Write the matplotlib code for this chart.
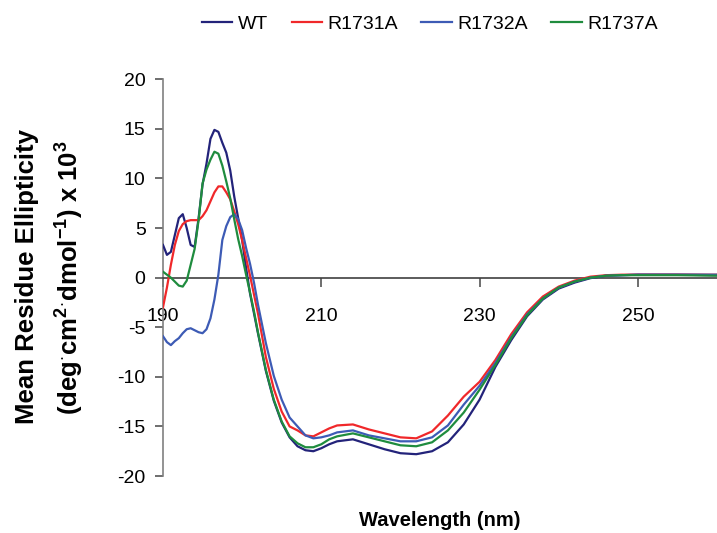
# -*- coding: utf-8 -*-
"""CD spectra: WT vs R1731A / R1732A / R1737A mutants."""

import matplotlib
matplotlib.use("Agg")
import matplotlib.pyplot as plt

plt.rcParams["font.family"] = ["Liberation Sans", "DejaVu Sans"]
plt.rcParams["mathtext.fontset"] = "custom"
plt.rcParams["mathtext.rm"] = "Liberation Sans"
plt.rcParams["mathtext.bf"] = "Liberation Sans:bold"
plt.rcParams["mathtext.default"] = "bf"
plt.rcParams["axes.unicode_minus"] = False

# wavelength grid (nm)
wavelength = [190, 190.5, 191, 191.5, 192, 192.5, 193, 193.5, 194, 194.5,
              195, 195.5, 196, 196.5, 197, 197.5, 198, 198.5, 199, 199.5,
              200, 200.5, 201, 201.5, 202, 203, 204, 205, 206, 207, 208,
              209, 210, 211, 212, 214, 216, 218, 220, 222, 224, 226, 228,
              230, 232, 234, 236, 238, 240, 242, 244, 246, 248, 250, 255, 260]

# mean residue ellipticity x 10^3
wt = [3.3, 2.3, 2.6, 4.3, 6.0, 6.4, 5.0, 3.3, 3.1, 6.0,
      9.4, 11.5, 14.0, 14.9, 14.7, 13.6, 12.6, 10.8, 8.2, 6.0,
      3.8, 1.0, -1.6, -3.6, -5.6, -9.4, -12.4, -14.6, -16.1, -17.0, -17.4,
      -17.5, -17.2, -16.8, -16.5, -16.3, -16.8, -17.3, -17.7, -17.8, -17.5, -16.6, -14.8,
      -12.3, -9.0, -6.3, -3.9, -2.2, -1.1, -0.5, -0.05, 0.2, 0.25, 0.3, 0.3, 0.25]

r1731a = [-3.0, -1.0, 1.3, 3.3, 4.7, 5.4, 5.7, 5.8, 5.8, 5.8,
          6.2, 6.8, 7.7, 8.6, 9.2, 9.2, 8.6, 7.9, 6.7, 5.4,
          3.8, 2.0, 0.2, -1.7, -3.6, -8.0, -11.2, -13.5, -15.0, -15.4, -15.9,
          -16.0, -15.6, -15.2, -14.9, -14.8, -15.3, -15.7, -16.1, -16.2, -15.5, -13.9, -12.0,
          -10.5, -8.3, -5.7, -3.5, -1.9, -0.9, -0.3, 0.1, 0.25, 0.3, 0.3, 0.3, 0.3]

r1732a = [-5.9, -6.5, -6.8, -6.4, -6.1, -5.6, -5.2, -5.1, -5.3, -5.5,
          -5.6, -5.2, -4.1, -2.2, 0.3, 3.8, 5.2, 6.1, 6.4, 5.9,
          4.8, 3.0, 1.4, -0.5, -2.7, -6.6, -9.9, -12.3, -14.1, -15.0, -15.9,
          -16.2, -16.1, -15.9, -15.6, -15.4, -15.9, -16.2, -16.5, -16.5, -16.1, -14.9, -12.8,
          -10.9, -8.6, -6.0, -3.7, -2.1, -1.0, -0.4, 0.0, 0.2, 0.25, 0.3, 0.3, 0.3]

r1737a = [0.6, 0.3, 0.0, -0.4, -0.8, -0.9, -0.3, 1.3, 2.9, 5.8,
          9.5, 10.9, 11.9, 12.7, 12.5, 11.3, 9.7, 8.0, 5.9, 3.9,
          2.2, 0.3, -1.5, -3.4, -5.5, -9.3, -12.3, -14.5, -16.0, -16.7, -17.1,
          -17.1, -16.8, -16.3, -16.0, -15.7, -16.1, -16.5, -16.9, -17.0, -16.6, -15.4, -13.6,
          -11.3, -8.8, -6.1, -3.8, -2.1, -1.0, -0.4, 0.0, 0.2, 0.25, 0.25, 0.25, 0.2]

series = [("WT", wt, "#23237a"),
          ("R1731A", r1731a, "#f0282a"),
          ("R1732A", r1732a, "#3d5bb5"),
          ("R1737A", r1737a, "#1f8c3e")]

x_ticks = [190, 210, 230, 250]
y_ticks = [-20, -15, -10, -5, 0, 5, 10, 15, 20]

fig = plt.figure(figsize=(7.17, 5.33), dpi=100)
ax = fig.add_axes([0.2273, 0.1069, 0.7727, 0.7443])

for name, vals, col in series:
    ax.plot(wavelength, vals, color=col, lw=1.6, label=name, zorder=3)

ax.set_xlim(190, 260)
ax.set_ylim(-20, 20)
ax.set_xticks(x_ticks)
ax.set_yticks(y_ticks)

ax.spines["top"].set_visible(False)
ax.spines["right"].set_visible(False)
ax.spines["bottom"].set_position(("data", 0))
ax.spines["bottom"].set_color("#404040")
ax.spines["left"].set_color("#808080")
ax.spines["bottom"].set_linewidth(1.2)
ax.spines["left"].set_linewidth(1.2)

ax.tick_params(axis="x", direction="out", length=6.5, width=1.2,
               color="#555555", pad=15, labelsize=14)
ax.tick_params(axis="y", direction="out", length=5.5, width=1.2,
               color="#555555", pad=7, labelsize=14)

fig.text(27 / 717, 1 - 276 / 533, "Mean Residue Ellipticity",
         rotation=90, ha="center", va="center", fontsize=18.5, fontweight="bold")
fig.text(70 / 717, 1 - 278 / 533,
         r"(deg$^{\cdot}$cm$^{2}$$^{\cdot}$dmol$^{-1}$) x 10$^{3}$",
         rotation=90, ha="center", va="center", fontsize=18.5, fontweight="bold")
fig.text(440 / 717, 1 - 520 / 533, "Wavelength (nm)",
         ha="center", va="center", fontsize=14.5, fontweight="bold")

fig.legend(loc="center", bbox_to_anchor=(430 / 717, 1 - 24 / 533), ncol=4,
           frameon=False, fontsize=14, handlelength=1.55, handletextpad=0.3,
           columnspacing=1.2)

fig.savefig("out.png", dpi=100)
